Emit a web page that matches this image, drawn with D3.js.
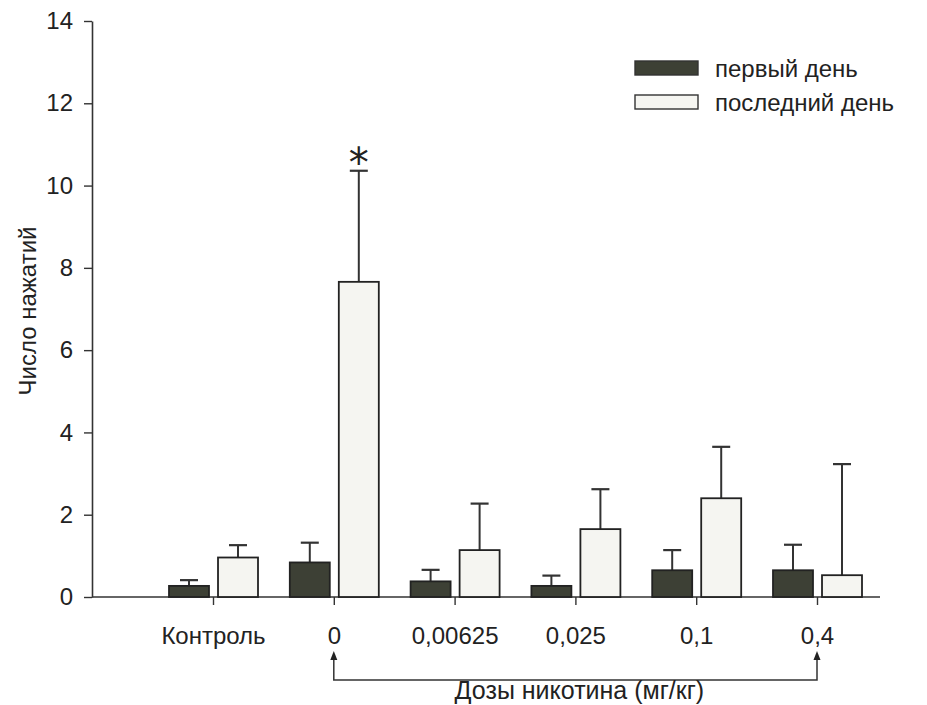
<!DOCTYPE html>
<html>
<head>
<meta charset="utf-8">
<script src="https://cdn.jsdelivr.net/npm/d3@7"></script>
<style>
  html, body { margin: 0; padding: 0; background: #fff; }
  svg { display: block; }
  text { font-family: "Liberation Sans", Arial, sans-serif; fill: #222; }
</style>
</head>
<body>
<svg id="chart" width="927" height="705"></svg>
<script>
// Nicotine dose groups
const categories = ["Контроль", "0", "0,00625", "0,025", "0,1", "0,4"];
const seriesNames = ["первый день", "последний день"];
// Mean number of presses
const firstDay = [0.27, 0.84, 0.38, 0.27, 0.65, 0.65];
const lastDay = [0.96, 7.66, 1.14, 1.65, 2.40, 0.53];
// Upper end of the error bars
const firstDayErr = [0.41, 1.32, 0.66, 0.52, 1.14, 1.27];
const lastDayErr = [1.26, 10.36, 2.27, 2.62, 3.65, 3.23];
const yTicks = [0, 2, 4, 6, 8, 10, 12, 14];
const significant = ["0"];

const fills = ["#3d4035", "#f5f5f1"];

const svg = d3.select("#chart");

const y = d3.scaleLinear().domain([0, 14]).range([597, 21]);
const x = d3.scalePoint().domain(categories).range([213, 817]);
const xs = d3.scaleBand().domain(seriesNames).range([-44, 45]).paddingInner(0.184);

// y axis
const yAxis = svg.append("g")
  .attr("transform", "translate(92,0)")
  .call(d3.axisLeft(y).tickValues(yTicks).tickSize(8).tickPadding(11).tickSizeOuter(0));
yAxis.select(".domain").attr("stroke", "#333").attr("stroke-width", 1.6);
yAxis.selectAll(".tick line").attr("stroke", "#333").attr("stroke-width", 1.4);
yAxis.selectAll(".tick text").style("font-size", "24px").attr("fill", "#222")
  .style("font-family", "'Liberation Sans', Arial, sans-serif");

// x axis (ticks + labels), baseline drawn from the y axis
const xAxis = svg.append("g")
  .attr("transform", "translate(0,597)")
  .call(d3.axisBottom(x).tickSize(8).tickPadding(22).tickSizeOuter(0));
xAxis.select(".domain").attr("d", `M92,0H880`).attr("stroke", "#333").attr("stroke-width", 1.6);
xAxis.selectAll(".tick line").attr("stroke", "#333").attr("stroke-width", 1.4);
xAxis.selectAll(".tick text").style("font-size", "24px").attr("fill", "#222")
  .style("font-family", "'Liberation Sans', Arial, sans-serif");

// y axis title
svg.append("text")
  .attr("transform", "translate(36,311) rotate(-90)")
  .attr("text-anchor", "middle")
  .style("font-size", "24px")
  .text("Число нажатий");

// bars
const rows = categories.map((c, i) => [
  { cat: c, s: 0, v: firstDay[i], e: firstDayErr[i] },
  { cat: c, s: 1, v: lastDay[i], e: lastDayErr[i] }
]).flat();

const g = svg.append("g");
const barW = xs.bandwidth();
const bx = d => x(d.cat) + xs(seriesNames[d.s]);

// error bars (upper only)
g.selectAll("line.err").data(rows).join("line")
  .attr("class", "err")
  .attr("x1", d => bx(d) + barW / 2).attr("x2", d => bx(d) + barW / 2)
  .attr("y1", d => y(d.v)).attr("y2", d => y(d.e))
  .attr("stroke", "#333").attr("stroke-width", 2);
g.selectAll("line.cap").data(rows).join("line")
  .attr("class", "cap")
  .attr("x1", d => bx(d) + barW / 2 - 9).attr("x2", d => bx(d) + barW / 2 + 9)
  .attr("y1", d => y(d.e)).attr("y2", d => y(d.e))
  .attr("stroke", "#333").attr("stroke-width", 2.2);

g.selectAll("rect.bar").data(rows).join("rect")
  .attr("class", "bar")
  .attr("x", d => bx(d))
  .attr("y", d => y(d.v))
  .attr("width", barW)
  .attr("height", d => y(0) - y(d.v))
  .attr("fill", d => fills[d.s])
  .attr("stroke", "#222")
  .attr("stroke-width", 1.8);

// significance marker
svg.selectAll("text.star").data(rows.filter(d => d.s === 1 && significant.includes(d.cat))).join("text")
  .attr("class", "star")
  .attr("x", d => bx(d) + barW / 2)
  .attr("y", d => y(d.e) + 6)
  .attr("text-anchor", "middle")
  .style("font-family", "'DejaVu Sans', sans-serif")
  .style("font-size", "40px")
  .text("*");

// bracket spanning the nicotine doses
const bx0 = x("0"), bx1 = x("0,4");
const topY = 651, botY = 680;
svg.append("path")
  .attr("d", `M${bx0},${topY + 6}V${botY}H${bx1}V${topY + 6}`)
  .attr("fill", "none").attr("stroke", "#333").attr("stroke-width", 1.5);
[bx0, bx1].forEach(cx => {
  svg.append("path")
    .attr("d", `M${cx},${topY}L${cx - 3.5},${topY + 9}L${cx + 3.5},${topY + 9}Z`)
    .attr("fill", "#222");
});
svg.append("text")
  .attr("x", (bx0 + bx1) / 2 + 4)
  .attr("y", 699)
  .attr("text-anchor", "middle")
  .style("font-size", "25px")
  .text("Дозы никотина (мг/кг)");

// legend
const legend = svg.append("g").attr("transform", "translate(635,61)");
seriesNames.forEach((name, i) => {
  const row = legend.append("g").attr("transform", `translate(0,${i * 34})`);
  row.append("rect").attr("width", 63).attr("height", 14)
    .attr("fill", fills[i]).attr("stroke", "#333").attr("stroke-width", 1.4);
  row.append("text").attr("x", 80).attr("y", 7).attr("dy", "0.36em")
    .style("font-size", "24px").text(name);
});
</script>
</body>
</html>
